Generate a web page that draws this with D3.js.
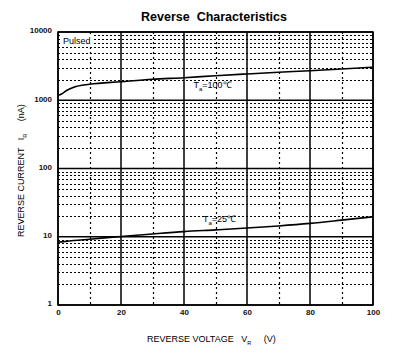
<!DOCTYPE html>
<html>
<head>
<meta charset="utf-8">
<script src="https://cdn.jsdelivr.net/npm/d3@7"></script>
<style>
  body { margin: 0; background: #fff; }
  svg { font-family: "Liberation Sans", Arial, sans-serif; }
</style>
</head>
<body>
<div id="chart"></div>
<script>
    // reverse voltage points (V)
    var voltage = [0, 1, 3, 5, 10, 20, 30, 40, 50, 60, 70, 80, 90, 100];
    // reverse current (nA), Ta = 100C
    var current100 = [1180, 1225, 1415, 1550, 1715, 1870, 2030, 2140, 2290, 2430, 2570, 2710, 2870, 3050];
    // reverse current (nA), Ta = 25C
    var current25 = [8.3, 8.4, 8.6, 8.8, 9.2, 10.1, 11.0, 11.9, 12.6, 13.4, 14.4, 15.7, 17.5, 19.6];

    var xTicks = [0, 20, 40, 60, 80, 100];
    var xMinor = [10, 30, 50, 70, 90];
    var yTicks = [1, 10, 100, 1000, 10000];

    var width = 400;
    var height = 353;
    var margin = { top: 32, right: 27, bottom: 48, left: 58 };

    var svg = d3.select("#chart").append("svg")
        .attr("width", width)
        .attr("height", height);

    var w = width - margin.left - margin.right;
    var h = height - margin.top - margin.bottom;

    var g = svg.append("g")
        .attr("transform", "translate(" + margin.left + "," + margin.top + ")");

    var x = d3.scaleLinear().domain([0, 100]).range([0, w]);
    var y = d3.scaleLog().domain([1, 10000]).range([h, 0]);

    // minor horizontal grid (2..9 in each decade)
    var yMinor = [];
    yTicks.slice(0, -1).forEach(function(d) {
      for (var k = 2; k <= 9; k++) yMinor.push(d * k);
    });

    g.append("g").selectAll("line")
        .data(yMinor)
        .enter().append("line")
          .attr("x1", 0).attr("x2", w)
          .attr("y1", function(d) { return Math.round(y(d)) + 0.5; })
          .attr("y2", function(d) { return Math.round(y(d)) + 0.5; })
          .attr("stroke", "#000")
          .attr("stroke-width", 1)
          .attr("stroke-dasharray", "2,2");

    g.append("g").selectAll("line")
        .data(xMinor)
        .enter().append("line")
          .attr("y1", 0).attr("y2", h)
          .attr("x1", function(d) { return Math.round(x(d)) + 0.5; })
          .attr("x2", function(d) { return Math.round(x(d)) + 0.5; })
          .attr("stroke", "#000")
          .attr("stroke-width", 1.2)
          .attr("stroke-dasharray", "2,3");

    // major grid
    g.append("g").selectAll("line")
        .data(yTicks)
        .enter().append("line")
          .attr("x1", 0).attr("x2", w)
          .attr("y1", function(d) { return y(d); })
          .attr("y2", function(d) { return y(d); })
          .attr("stroke", "#000")
          .attr("stroke-width", 1.5);

    g.append("g").selectAll("line")
        .data(xTicks)
        .enter().append("line")
          .attr("y1", 0).attr("y2", h)
          .attr("x1", function(d) { return x(d); })
          .attr("x2", function(d) { return x(d); })
          .attr("stroke", "#000")
          .attr("stroke-width", 1.5);

    g.append("rect")
        .attr("width", w).attr("height", h)
        .attr("fill", "none")
        .attr("stroke", "#000")
        .attr("stroke-width", 1.5);

    // curves
    var line = d3.line()
        .curve(d3.curveMonotoneX)
        .x(function(d) { return x(d[0]); })
        .y(function(d) { return y(d[1]); });

    [current100, current25].forEach(function(c) {
      g.append("path")
          .datum(d3.zip(voltage, c))
          .attr("fill", "none")
          .attr("stroke", "#000")
          .attr("stroke-width", 1.6)
          .attr("d", line);
    });

    // axes
    var xAxis = g.append("g")
        .attr("transform", "translate(0," + h + ")")
        .call(d3.axisBottom(x).tickValues(xTicks).tickSize(0).tickPadding(4));
    var yAxis = g.append("g")
        .call(d3.axisLeft(y).tickValues(yTicks).tickFormat(d3.format("d")).tickSize(0).tickPadding(6));

    [xAxis, yAxis].forEach(function(a) {
      a.select(".domain").remove();
      a.selectAll("text")
          .attr("font-family", "Liberation Sans, Arial, sans-serif")
          .attr("font-size", 8)
          .attr("font-weight", "bold")
          .attr("fill", "#111");
    });
    yAxis.selectAll("text").attr("dy", "0.1em");

    // Pulsed label
    g.append("rect")
        .attr("x", 4).attr("y", 3).attr("width", 30).attr("height", 10)
        .attr("fill", "#fff");
    g.append("text")
        .attr("x", 5).attr("y", 12)
        .attr("font-size", 9)
        .text("Pulsed");

    function tempLabel(vx, iy, temp) {
      var t = g.append("text")
          .attr("x", x(vx)).attr("y", y(iy))
          .attr("font-size", 9);
      t.append("tspan").text("T");
      t.append("tspan").attr("font-size", 6).attr("dy", 3).text("a");
      t.append("tspan").attr("dy", -3).text("=" + temp + "\u2103");
    }
    tempLabel(43, 1500, 100);
    tempLabel(46, 16.5, 25);

    // titles
    svg.append("text")
        .attr("x", 214).attr("y", 21)
        .attr("text-anchor", "middle")
        .attr("font-size", 12.5)
        .attr("font-weight", "bold")
        .attr("xml:space", "preserve")
        .text("Reverse  Characteristics");

    var xl = svg.append("text")
        .attr("x", 147).attr("y", 342)
        .attr("font-size", 9)
        .attr("xml:space", "preserve");
    xl.append("tspan").text("REVERSE VOLTAGE   V");
    xl.append("tspan").attr("font-size", 5.5).attr("dy", 3).text("R");
    xl.append("tspan").attr("dy", -3).text("     (V)");

    var yl = svg.append("text")
        .attr("transform", "translate(24,237) rotate(-90)")
        .attr("font-size", 9)
        .attr("xml:space", "preserve");
    yl.append("tspan").text("REVERSE CURRENT   I");
    yl.append("tspan").attr("font-size", 5.5).attr("dy", 3).text("R");
    yl.append("tspan").attr("dy", -3).text("     (nA)");
</script>
</body>
</html>
